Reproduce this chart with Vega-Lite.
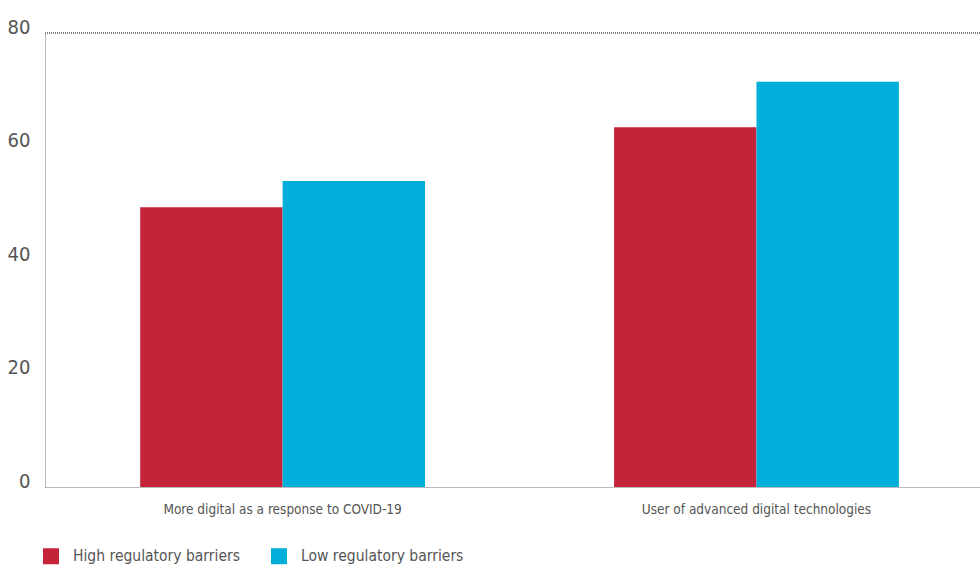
{
  "$schema": "https://vega.github.io/schema/vega-lite/v6.json",
  "autosize": {"type": "none"},
  "width": 935,
  "height": 454,
  "padding": {"left": 45, "top": 33, "right": 0, "bottom": 78},
  "background": "white",
  "config": {
    "view": {"stroke": null},
    "font": "Liberation Sans Narrow, DejaVu Sans Condensed, sans-serif"
  },
  "data": {
    "values": [
      {"category": "More digital as a response to COVID-19", "group": "High regulatory barriers", "value": 49.3},
      {"category": "More digital as a response to COVID-19", "group": "Low regulatory barriers", "value": 53.9},
      {"category": "User of advanced digital technologies", "group": "High regulatory barriers", "value": 63.4},
      {"category": "User of advanced digital technologies", "group": "Low regulatory barriers", "value": 71.4}
    ]
  },
  "layer": [
    {
      "mark": {"type": "bar"},
      "encoding": {
        "x": {
          "field": "category",
          "type": "nominal",
          "sort": null,
          "scale": {"paddingInner": 0.399, "paddingOuter": 0.186, "align": 0.54},
          "axis": {
            "title": null,
            "labelAngle": 0,
            "labelFontSize": 13.5,
            "labelLimit": 0,
            "labelColor": "#555555",
            "labelPadding": 15,
            "ticks": false,
            "domainColor": "#777777",
            "domainDash": [1, 1],
            "domainWidth": 1
          }
        },
        "xOffset": {
          "field": "group",
          "type": "nominal",
          "scale": {"paddingInner": 0, "paddingOuter": 0}
        },
        "y": {
          "field": "value",
          "type": "quantitative",
          "scale": {"domain": [0, 80], "nice": false},
          "axis": {
            "title": null,
            "values": [0, 20, 40, 60, 80],
            "grid": false,
            "ticks": false,
            "labelFontSize": 20,
            "labelColor": "#555555",
            "labelPadding": 15,
            "labelBaseline": "alphabetic",
            "domainColor": "#777777",
            "domainDash": [1, 1],
            "domainWidth": 1
          }
        },
        "color": {
          "field": "group",
          "type": "nominal",
          "scale": {"range": ["#C52338", "#00AEDA"]},
          "legend": {
            "title": null,
            "orient": "none",
            "direction": "horizontal",
            "legendX": -2,
            "legendY": 515,
            "symbolType": "square",
            "symbolSize": 256,
            "symbolStrokeWidth": 0,
            "labelFontSize": 15.5,
            "labelLimit": 0,
            "labelColor": "#555555",
            "labelOffset": 14,
            "columnPadding": 30
          }
        }
      }
    },
    {
      "mark": {"type": "rule", "color": "#777777", "strokeDash": [1, 1], "strokeWidth": 1},
      "encoding": {"y": {"datum": 80, "type": "quantitative"}}
    }
  ]
}
